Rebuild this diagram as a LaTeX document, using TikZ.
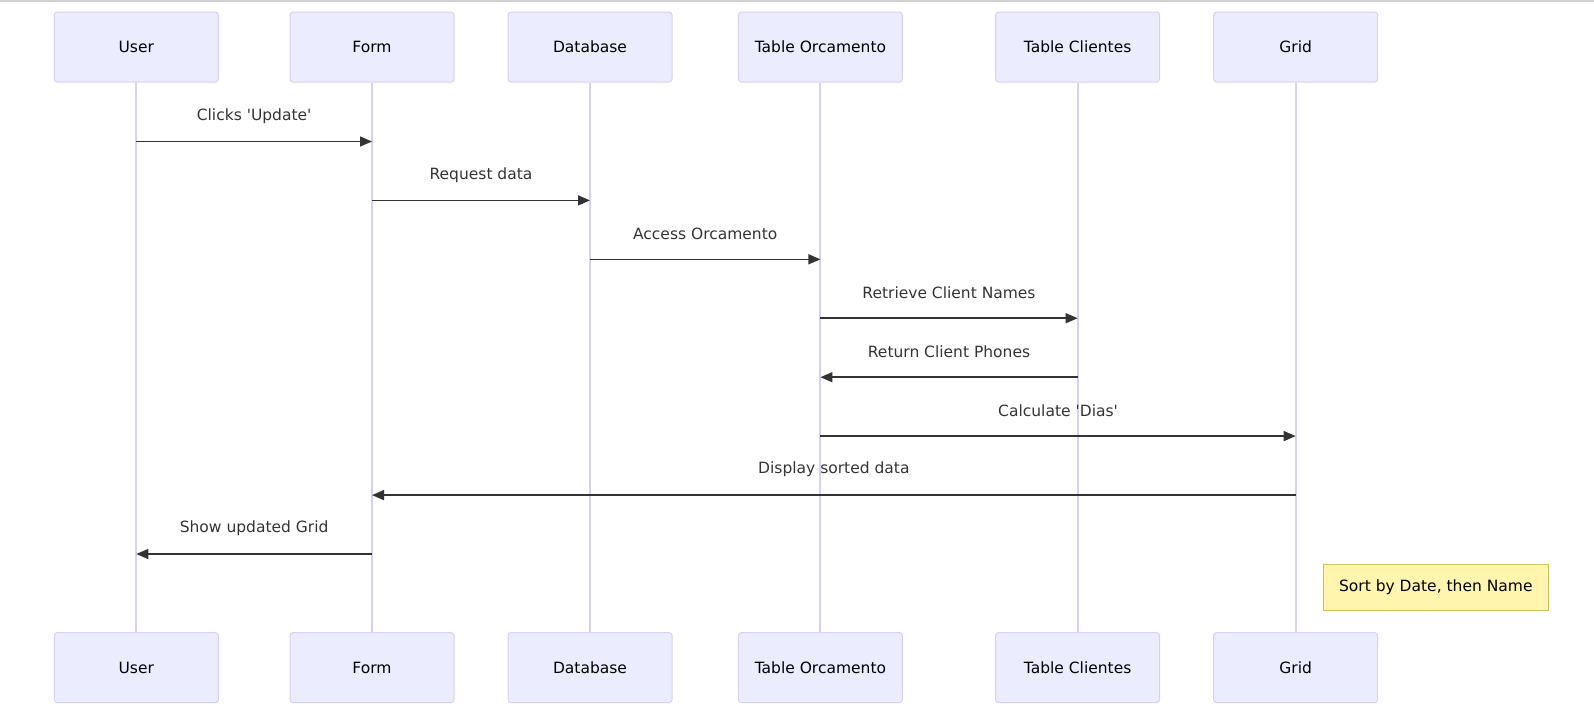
\documentclass[tikz,border=0pt]{standalone}
\usepackage{fontspec}
\setmainfont{DejaVu Sans}
\usetikzlibrary{arrows.meta}
\definecolor{actorbg}{HTML}{ECECFF}
\definecolor{actorline}{HTML}{D9CEF3}
\definecolor{msgcol}{HTML}{333333}
\definecolor{notebg}{HTML}{FFF5AD}
\definecolor{noteline}{HTML}{C8C35A}
\definecolor{topline}{HTML}{D0D0D0}
\tikzset{
  actor/.style={rectangle, draw=actorline, fill=actorbg, line width=1pt,
    minimum width=164pt, minimum height=70pt, rounded corners=3pt, inner sep=0pt,
    text=black, font=\fontsize{15.5}{18}\selectfont},
  lifeline/.style={draw=actorline, line width=2pt},
  msg/.style={draw=msgcol, line width=1.5pt, -{Triangle[length=12pt,width=10pt]}},
  msglabel/.style={text=msgcol, font=\fontsize{15.5}{18}\selectfont, yshift=25.5pt},
  notebox/.style={rectangle, draw=noteline, fill=notebg, line width=1pt,
    minimum width=225pt, minimum height=46pt, inner sep=0pt,
    text=black, font=\fontsize{15.5}{18}\selectfont}
}
\begin{document}
\begin{tikzpicture}[x=1pt,y=-1pt]
\useasboundingbox (0,0) rectangle (1594,723);
\draw[topline, line width=1.5pt] (0,0.75) -- (1594,0.75);
% top actors
\node[actor] (uT) at (136.3,47) {User};
\node[actor] (fT) at (372,47) {Form};
\node[actor] (dT) at (590,47) {Database};
\node[actor] (oT) at (820.4,47) {Table Orcamento};
\node[actor] (cT) at (1077.6,47) {Table Clientes};
\node[actor] (gT) at (1295.7,47) {Grid};
% bottom actors
\node[actor] (uB) at (136.3,667.6) {User};
\node[actor] (fB) at (372,667.6) {Form};
\node[actor] (dB) at (590,667.6) {Database};
\node[actor] (oB) at (820.4,667.6) {Table Orcamento};
\node[actor] (cB) at (1077.6,667.6) {Table Clientes};
\node[actor] (gB) at (1295.7,667.6) {Grid};
% lifelines
\draw[lifeline] (uT.south) -- (uB.north);
\draw[lifeline] (fT.south) -- (fB.north);
\draw[lifeline] (dT.south) -- (dB.north);
\draw[lifeline] (oT.south) -- (oB.north);
\draw[lifeline] (cT.south) -- (cB.north);
\draw[lifeline] (gT.south) -- (gB.north);
% message rows
\coordinate (y1) at (0,141.5);
\coordinate (y2) at (0,200.4);
\coordinate (y3) at (0,259.3);
\coordinate (y4) at (0,318.2);
\coordinate (y5) at (0,377.2);
\coordinate (y6) at (0,436.1);
\coordinate (y7) at (0,495.1);
\coordinate (y8) at (0,554.0);
\draw[msg] (uT |- y1) -- (fT |- y1) node[msglabel, midway] {Clicks \textquotesingle Update\textquotesingle};
\draw[msg] (fT |- y2) -- (dT |- y2) node[msglabel, midway] {Request data};
\draw[msg] (dT |- y3) -- (oT |- y3) node[msglabel, midway] {Access Orcamento};
\draw[msg] (oT |- y4) -- (cT |- y4) node[msglabel, midway] {Retrieve Client Names};
\draw[msg] (cT |- y5) -- (oT |- y5) node[msglabel, midway] {Return Client Phones};
\draw[msg] (oT |- y6) -- (gT |- y6) node[msglabel, midway] {Calculate \textquotesingle Dias\textquotesingle};
\draw[msg] (gT |- y7) -- (fT |- y7) node[msglabel, midway] {Display sorted data};
\draw[msg] (fT |- y8) -- (uT |- y8) node[msglabel, midway] {Show updated Grid};
% note
\node[notebox] (note) at (1435.8,587.5) {Sort by Date, then Name};
\end{tikzpicture}
\end{document}
